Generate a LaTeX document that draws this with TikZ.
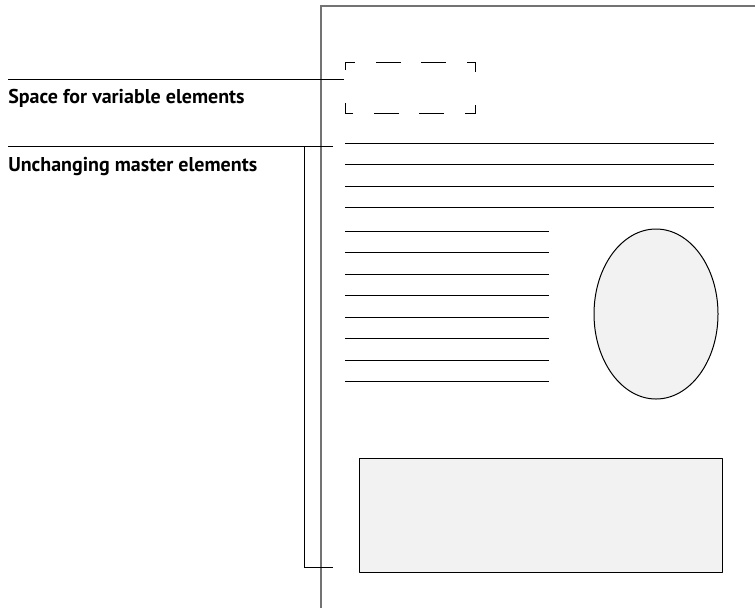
\documentclass[tikz,border=0pt]{standalone}
\usepackage{fontspec}
\setsansfont{PT Sans}
\usetikzlibrary{shapes.geometric}
\begin{document}
\begin{tikzpicture}[
        x=0.75pt, y=-0.75pt,
        callout/.style={anchor=base west, inner sep=0pt, font=\sffamily\bfseries\fontsize{15}{17}\selectfont},
        rule/.style={line width=0.75pt},
        pageedge/.style={line width=0.9pt, draw=black!55},
        slot/.style={line width=0.75pt, dash pattern=on 13.5pt off 15.75pt on 18.75pt off 15pt on 18.75pt off 15.75pt on 13.5pt off 24.75pt},
        shade/.style={draw, line width=0.75pt, line join=round, fill=black!5}
    ]
    \useasboundingbox (0,0) rectangle (755,608);

    % Page outline (runs off to the right and the bottom)
    \coordinate (pgcorner) at (321,6);
    \coordinate (pgright) at (755,6);
    \coordinate (pgbottom) at (321,608);
    \draw[pageedge] (pgright) -- (pgcorner) -- (pgbottom);

    % Callout texts
    \node[callout] (varlabel) at (8,103) {Space for variable elements};
    \node[callout] (masterlabel) at (8,171) {Unchanging master elements};

    % Leader lines
    \coordinate (varstart) at (8,79);
    \coordinate (varend) at (344,79);
    \coordinate (masterstart) at (8,146);
    \coordinate (masterend) at (333,146);
    \draw[rule] (varstart) -- (varend);
    \draw[rule] (masterstart) -- (masterend);

    % Bracket for the master elements
    \coordinate (brackettop) at (333,146);
    \coordinate (bracketbot) at (333,567);
    \draw[rule] (brackettop) -| (304,567) -- (bracketbot);

    % Dashed box for the variable part
    \draw[slot] (345,70) -- (345,62) -- (475,62) -- (475,113) -- (345,113) -- cycle;

    % Long text lines
    \foreach \y in {143,164.5,186,207}
        \draw[rule] (345,\y) -- (714,\y);

    % Short text lines
    \foreach \y in {231,252.5,274,295.5,317,338.5,360,381.5}
        \draw[rule] (345,\y) -- (549,\y);

    % Picture and box
    \node[shade, ellipse, minimum width=124*0.75pt, minimum height=170*0.75pt, inner sep=0pt] (photo) at (656,314) {};
    \node[shade, rectangle, minimum width=363*0.75pt, minimum height=114*0.75pt, inner sep=0pt] (panel) at (540.5,515) {};

\end{tikzpicture}
\end{document}
